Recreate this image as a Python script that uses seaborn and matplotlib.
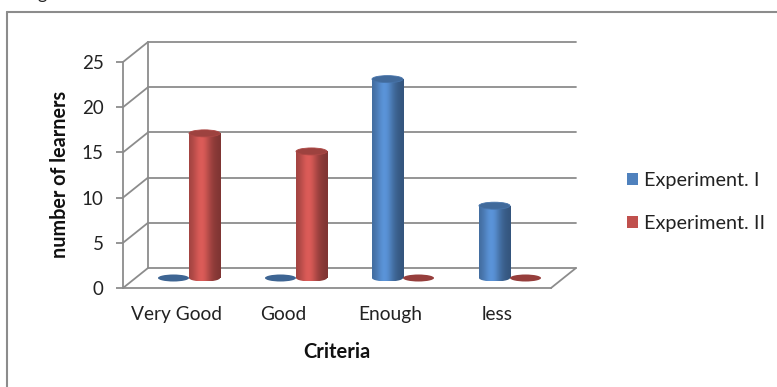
import numpy as np
import pandas as pd
import seaborn as sns
import matplotlib.pyplot as plt
import matplotlib.transforms as mtransforms
from matplotlib.patches import Ellipse, Patch
from matplotlib.lines import Line2D

# data
criteria = ["Very Good", "Good", "Enough", "less"]
series = ["Experiment. I", "Experiment. II"]
exp1 = [0, 0, 22, 8]
exp2 = [16, 14, 0, 0]
yticks = [0, 5, 10, 15, 20, 25]

df = pd.DataFrame({
    "Criteria": criteria * 2,
    "learners": exp1 + exp2,
    "series": [series[0]] * 4 + [series[1]] * 4,
})
colors = {series[0]: "#4F81BD", series[1]: "#C0504D"}

sns.set_theme(style="white")
plt.rcParams["font.family"] = ["Lato", "DejaVu Sans"]

W, H = 777, 387
fig = plt.figure(figsize=(W / 100, H / 100), dpi=100)
# front plane of the 3d box (pixels from top-left)
fl, fr, fb, ft = 123, 551, 288, 62
ax = fig.add_axes([fl / W, 1 - fb / H, (fr - fl) / W, (fb - ft) / H])

sns.barplot(data=df, x="Criteria", y="learners", hue="series", palette=colors,
            width=0.58, saturation=1, errorbar=None, legend=False, ax=ax)

# depth of the box in data units (25px right, 20px up)
DX = 25 * 4 / (fr - fl)
DY = 20 * 25 / (fb - ft)
gc = "#8C8C8C"

# back wall, side wall and floor lines
for t in yticks:
    ax.plot([-0.5 + DX, 3.5 + DX], [t + DY, t + DY], color=gc, lw=1.3, clip_on=False, zorder=0.5)
    ax.plot([-0.5, -0.5 + DX], [t, t + DY], color=gc, lw=1.3, clip_on=False, zorder=0.5)
ax.plot([-0.5 + DX] * 2, [DY, 25 + DY], color=gc, lw=1.3, clip_on=False, zorder=0.5)
ax.plot([3.5, 3.5 + DX], [0, DY], color=gc, lw=1.3, clip_on=False, zorder=0.5)

# cylinders sit half way into the box
shift = mtransforms.Affine2D().translate(DX / 2, DY / 2) + ax.transData
eh = 7 * 25 / (fb - ft)

tt = np.linspace(0, 1, 64)
prof = 0.80 + 0.40 * np.exp(-((tt - 0.4) / 0.28) ** 2) - 0.14 * tt

for p in list(ax.patches):
    x0, w, h = p.get_x(), p.get_width(), p.get_height()
    col = np.array(p.get_facecolor()[:3])
    p.set_transform(shift)
    p.set_edgecolor("none")
    cx = x0 + w / 2
    if h > 0:
        grad = np.clip(col[None, None, :] * prof[None, :, None], 0, 1)
        im = ax.imshow(grad, extent=[x0, x0 + w, 0, h], transform=shift,
                       aspect="auto", interpolation="bilinear", zorder=2.1)
        im.set_clip_path(p)
        bot = Ellipse((cx, 0), w, eh, transform=shift)
        im2 = ax.imshow(grad, extent=[x0, x0 + w, -eh / 2, 0], transform=shift,
                        aspect="auto", interpolation="bilinear", zorder=2.1)
        im2.set_clip_path(bot)
        top = Ellipse((cx, h), w, eh, transform=shift, facecolor=col * 0.82,
                      edgecolor=col * 0.9, lw=0.6, zorder=3)
        ax.add_patch(top)
    else:
        flat = Ellipse((cx, 0), w, eh, transform=shift, facecolor=col * 0.78,
                       edgecolor="none", zorder=3)
        ax.add_patch(flat)

ax.set_xlim(-0.5, 3.5)
ax.set_ylim(0, 25)
ax.set_yticks(yticks)

for s in ["top", "right"]:
    ax.spines[s].set_visible(False)
for s in ["left", "bottom"]:
    ax.spines[s].set_color(gc)
    ax.spines[s].set_linewidth(1.3)

ax.tick_params(axis="y", left=True, direction="out", length=5, width=1.3, color=gc,
               pad=9, labelsize=13.5, labelcolor="#222222")
ax.tick_params(axis="x", bottom=False, length=0, pad=13, labelsize=13.8, labelcolor="#222222")

ax.set_ylabel("number of learners", fontsize=14.2, fontweight="bold", color="#111111")
ax.yaxis.set_label_coords(-0.124, 0.504)
ax.set_xlabel("Criteria", fontsize=14.5, fontweight="bold", color="#111111")
ax.xaxis.set_label_coords(0.5, -0.24)

handles = [Patch(facecolor=colors[s], edgecolor="none") for s in series]
fig.legend(handles, series, loc="center left", bbox_to_anchor=(627 / W, 1 - 202 / H),
           bbox_transform=fig.transFigure, frameon=False, fontsize=14.3,
           handlelength=0.55, handleheight=0.55, handletextpad=0.3,
           labelspacing=1.3, borderpad=0, borderaxespad=0, labelcolor="#222222")

# outer chart frame and cropped caption above it
fig.add_artist(Line2D([7 / W, 1.0], [1 - 12 / H] * 2, transform=fig.transFigure, color=gc, lw=1.5))
fig.add_artist(Line2D([7 / W] * 2, [0, 1 - 12 / H], transform=fig.transFigure, color=gc, lw=1.5))
fig.text(37 / W, 1 + 0.5 / H, "g", fontsize=13, va="baseline", color="#222222")

fig.savefig("out.png", dpi=100)
